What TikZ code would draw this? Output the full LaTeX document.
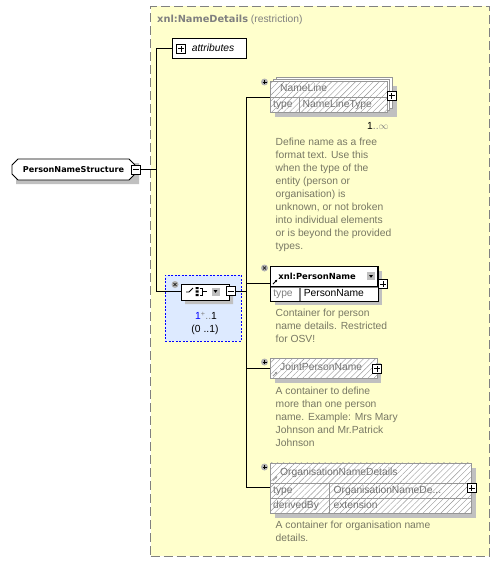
\documentclass[tikz,border=0pt]{standalone}
\usepackage{fontspec}
\setmainfont{Liberation Sans}
\newfontfamily\headfont{DejaVu Sans}
\usetikzlibrary{patterns.meta,shapes.misc,arrows.meta}
\definecolor{groupfill}{RGB}{255,255,204}
\definecolor{choicefill}{RGB}{221,234,255}
\definecolor{docgray}{RGB}{120,120,100}
\definecolor{hatchgray}{RGB}{150,150,150}
\definecolor{shadowgray}{RGB}{192,192,192}
\newcommand\headtext[2][8.8]{{\headfont\bfseries\fontsize{#1}{11}\selectfont #2}}
\begin{document}
\begin{tikzpicture}[x=1pt, y=-1pt,
  every node/.style = {font=\fontsize{10.3}{13}\selectfont, inner sep=0pt},
  grp/.style = {draw=gray, fill=groupfill, line width=1.2pt,
    dash pattern=on 9pt off 4pt, anchor=north west},
  choicegrp/.style = {draw=blue, fill=choicefill, dash pattern=on 2pt off 1.5pt,
    anchor=north west},
  elem/.style = {draw=black, fill=white, line width=0.8pt, anchor=north west,
    text height=7.5pt, text depth=2pt, align=left},
  hatched/.style = {draw=hatchgray, fill=white, anchor=north west, text=black!55,
    text height=7.5pt, text depth=2pt, align=left,
    postaction={pattern={Lines[angle=45, distance=4.2pt, line width=0.4pt]},
      pattern color=hatchgray}},
  doc/.style = {text=docgray, align=left, anchor=north west},
  octa/.style = {chamfered rectangle, chamfered rectangle xsep=#1, draw=black,
    fill=white, line width=0.8pt},
  plusbox/.style = {draw=black, fill=white, minimum size=9pt, line width=0.6pt,
    path picture={
      \draw ([xshift=-3pt]path picture bounding box.center) -- ([xshift=3pt]path picture bounding box.center);
      \draw ([yshift=-3pt]path picture bounding box.center) -- ([yshift=3pt]path picture bounding box.center);}},
  minusbox/.style = {draw=black, fill=white, minimum size=9pt, line width=0.6pt,
    path picture={
      \draw ([xshift=-3pt]path picture bounding box.center) -- ([xshift=3pt]path picture bounding box.center);}},
  occplus/.style = {circle, fill=black!30, minimum size=7pt,
    path picture={
      \draw[line width=0.8pt] ([xshift=-2pt]path picture bounding box.center) -- ([xshift=2pt]path picture bounding box.center);
      \draw[line width=0.8pt] ([yshift=-2pt]path picture bounding box.center) -- ([yshift=2pt]path picture bounding box.center);}},
  occopt/.style = {circle, fill=black!30, minimum size=7pt,
    path picture={
      \draw[line width=0.6pt] ([shift={(-1.6pt,-1.6pt)}]path picture bounding box.center) -- ([shift={(1.6pt,1.6pt)}]path picture bounding box.center);
      \draw[line width=0.6pt] ([shift={(-1.6pt,1.6pt)}]path picture bounding box.center) -- ([shift={(1.6pt,-1.6pt)}]path picture bounding box.center);}},
  refarrow/.style = {-{Latex[length=2.5pt, width=2.5pt]}, line width=0.8pt}]
\useasboundingbox (0,0) rectangle (500,562);

\node[grp, minimum width=339, minimum height=550] (group) at (150,5.5) {};
\node[anchor=base west, text=gray] (title) at (157,22.5)
  {\headtext[9.8]{xnl:NameDetails} (restriction)};

% attributes and the complex type
\node[elem, minimum width=74, minimum height=20, inner xsep=19.5pt, text width=35pt] (attr) at (172,38) {\itshape attributes};
\node[plusbox] (attr-plus) at (181,48.5) {};
\node[octa=2.5pt, fill=shadowgray, draw=none, minimum width=123, minimum height=21] at (77.5,173.5) {};
\node[octa=2.5pt, minimum width=123, minimum height=21] (pns) at (73.5,169.5) {\headtext[8.1]{PersonNameStructure}\hspace{13pt}};
\node[minusbox] (pns-minus) at (136,169.5) {};

% choice
\node[choicegrp, minimum width=76, minimum height=66] (choicegroup) at (165,275) {};
\node[occopt] (choice-occ) at (175,284.5) {};
\node[octa=5pt, fill=shadowgray, draw=none, minimum width=48, minimum height=16] at (209,296) {};
\node[octa=5pt, minimum width=48, minimum height=16] (choice) at (205,292) {};
\draw[line width=0.8pt] (186,292) -- (189,292) -- (193,288);
\fill (195.5,287) rectangle (198.5,289.2) (195.5,290.4) rectangle (198.5,292.6) (195.5,293.8) rectangle (198.5,296);
\draw[line width=0.7pt] (199.5,288) -- (202,288) -- (202,295) -- (199.5,295) (202,291.5) -- (206.5,291.5);
\fill[black!25] (211.5,287.5) rectangle (219.5,295.5);
\fill (213.5,290) -- (217.5,290) -- (215.5,292.8) -- cycle;
\node[minusbox] (choice-minus) at (230.5,291) {};
\node (choice-card) at (206,316) {\textcolor{blue}{1}\textsuperscript{\textcolor{gray}{+}}\textcolor{gray}{..}1};
\node (choice-occur) at (205,329.5) {(0\hspace{3pt}..1)};

% NameLine
\fill[shadowgray] (275,86) rectangle (397,117);
\draw[hatchgray, fill=white] (276,77) rectangle (392,108);
\draw[hatchgray, fill=white] (273,79) rectangle (389.5,110);
\node[hatched, minimum width=117, minimum height=16, inner xsep=10pt, text width=97pt] (nameline) at (270,81) {NameLine};
\node[hatched, minimum width=29, minimum height=15, inner xsep=3pt, text width=23pt] (nameline-key) at (nameline.south west) {type};
\node[hatched, minimum width=88, minimum height=15, inner xsep=3pt, text width=82pt] (nameline-type) at (nameline-key.north east) {NameLineType};
\node[occplus] (nameline-occ) at (264.5,82) {};
\node[plusbox] (nameline-plus) at (391.5,95.5) {};
\node[anchor=base west] (nameline-card) at (367,129) {1\textcolor{gray}{..$\infty$}};
\node[doc] (nameline-doc) at (275.5,138) {Define name as a free\\format text. Use this\\when the type of the\\entity (person or\\organisation) is\\unknown, or not broken\\into individual elements\\or is beyond the provided\\types.};

% PersonName
\fill[shadowgray] (275,271) rectangle (382,305);
\node[elem, minimum width=107, minimum height=20, inner xsep=8pt, text width=91pt] (personname) at (270,266) {\headtext[8.4]{xnl:PersonName}};
\node[elem, draw=gray, line width=0.5pt, text=gray, minimum width=29, minimum height=14, inner xsep=3pt, text width=23pt] (personname-key) at (personname.south west) {type};
\node[elem, draw=gray, line width=0.5pt, minimum width=78, minimum height=14, inner xsep=4pt, text width=70pt] (personname-type) at (personname-key.north east) {PersonName};
\draw[black, line width=0.8pt] (personname.north west) rectangle (personname-type.south east);
\fill[black!25] (367,272) rectangle (375,280);
\fill (369,275) -- (373,275) -- (371,277.8) -- cycle;
\draw[refarrow] (273,284) -- (277.5,279.5);
\node[occopt] (personname-occ) at (264.5,268) {};
\node[plusbox] (personname-plus) at (383,284) {};
\node[doc] (personname-doc) at (275.5,309) {Container for person\\name details. Restricted\\for OSV!};

% JointPersonName
\fill[shadowgray] (275,363) rectangle (381,383);
\node[hatched, minimum width=107, minimum height=20, inner xsep=10pt, text width=87pt] (jointname) at (270,358) {JointPersonName};
\draw[refarrow, hatchgray] (273,376) -- (277.5,371.5);
\node[occplus] (jointname-occ) at (264.5,362) {};
\node[plusbox] (jointname-plus) at (377,368.5) {};
\node[doc] (jointname-doc) at (275.5,386.5) {A container to define\\more than one person\\name. Example: Mrs Mary\\Johnson and Mr.Patrick\\Johnson};

% OrganisationNameDetails
\fill[shadowgray] (275,467.5) rectangle (476,517.5);
\node[hatched, minimum width=201, minimum height=20, inner xsep=10pt, text width=181pt] (org) at (270,462.5) {OrganisationNameDetails};
\node[hatched, minimum width=59, minimum height=15, inner xsep=3pt, text width=53pt] (org-key) at (org.south west) {type};
\node[hatched, minimum width=142, minimum height=15, inner xsep=4pt, text width=134pt] (org-type) at (org-key.north east) {OrganisationNameDe...};
\node[hatched, minimum width=59, minimum height=15, inner xsep=3pt, text width=53pt] (org-key2) at (org-key.south west) {derivedBy};
\node[hatched, minimum width=142, minimum height=15, inner xsep=4pt, text width=134pt] (org-derived) at (org-key2.north east) {extension};
\draw[refarrow, hatchgray] (273,480.5) -- (277.5,476);
\node[occplus] (org-occ) at (264.5,467) {};
\node[plusbox] (org-plus) at (471.5,488) {};
\node[doc] (org-doc) at (275.5,520.5) {A container for organisation name\\details.};

% connectors
\coordinate (bus1) at (156.7,169.5);
\coordinate (bus2) at (246,291);
\draw[line width=0.8pt] (pns-minus.east) -- (bus1);
\draw[line width=0.8pt] (bus1) |- (attr.west);
\draw[line width=0.8pt] (bus1) |- ([yshift=0.5pt]choice.west);
\draw[line width=0.8pt] (choice-minus.east) -- (bus2);
\draw[line width=0.8pt] (bus2) |- ([yshift=0.5pt]nameline.south west);
\draw[line width=0.8pt] (bus2) |- ([yshift=3pt]personname.south west);
\draw[line width=0.8pt] (bus2) |- (jointname.west);
\draw[line width=0.8pt] (bus2) |- ([yshift=-4.5pt]org.south west);
\end{tikzpicture}
\end{document}
